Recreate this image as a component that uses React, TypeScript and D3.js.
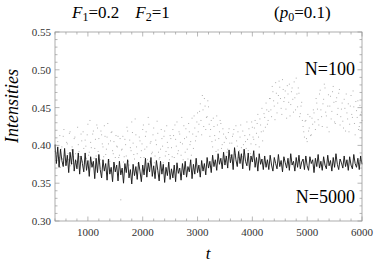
import React, { useEffect, useRef } from "react";
import * as d3 from "d3";

// sampling of the time axis
const tStart = 400;
const tStep = 25;

// N=5000 run (black line)
const bigN = [
  0.401, 0.376, 0.398, 0.371, 0.395, 0.380, 0.372, 0.396, 0.373, 0.387,
  0.364, 0.391, 0.375, 0.395, 0.366, 0.381, 0.369, 0.390, 0.362, 0.386,
  0.376, 0.365, 0.390, 0.367, 0.380,
  0.359, 0.385, 0.371, 0.379, 0.356, 0.383, 0.364, 0.388, 0.368, 0.357,
  0.381, 0.366, 0.376, 0.354, 0.382, 0.362, 0.371, 0.352, 0.378, 0.365,
  0.374, 0.353, 0.379, 0.361, 0.370, 0.350, 0.376, 0.364, 0.381, 0.357,
  0.368, 0.349, 0.375, 0.360, 0.372, 0.355, 0.378, 0.366, 0.352, 0.374,
  0.361, 0.383, 0.358, 0.377, 0.365, 0.384, 0.359, 0.373, 0.356, 0.380,
  0.367, 0.353, 0.379, 0.362, 0.375, 0.351, 0.371, 0.360, 0.378, 0.355,
  0.369, 0.357, 0.374, 0.352, 0.377, 0.363, 0.370, 0.354, 0.376, 0.361,
  0.379, 0.358, 0.372, 0.365, 0.381, 0.356, 0.375, 0.362, 0.383, 0.364,
  0.374, 0.358, 0.380, 0.366, 0.376, 0.361, 0.384, 0.370, 0.379, 0.364,
  0.387, 0.372, 0.381, 0.367, 0.389, 0.375, 0.383, 0.369, 0.391, 0.374,
  0.386, 0.370, 0.394, 0.377, 0.388, 0.368, 0.397, 0.381, 0.372, 0.392,
  0.376, 0.389, 0.369, 0.395, 0.379, 0.373, 0.390, 0.367, 0.386, 0.378,
  0.393, 0.371, 0.384, 0.366, 0.389, 0.375, 0.382, 0.368,
  0.386, 0.371, 0.381, 0.368, 0.387, 0.374, 0.366, 0.384, 0.376, 0.369,
  0.388, 0.372, 0.380, 0.365, 0.385, 0.377, 0.370, 0.383, 0.367, 0.389,
  0.374, 0.379, 0.366, 0.384, 0.371, 0.387, 0.369, 0.378, 0.382, 0.368,
  0.386, 0.373, 0.367, 0.385, 0.376, 0.381, 0.364, 0.383, 0.372, 0.388,
  0.370, 0.379, 0.367, 0.385, 0.374, 0.369, 0.387, 0.373, 0.380, 0.366,
  0.384, 0.371, 0.389, 0.375, 0.368, 0.382, 0.377, 0.370, 0.386, 0.372,
  0.381, 0.367, 0.385, 0.374, 0.369, 0.388, 0.376, 0.371, 0.383, 0.368,
  0.386, 0.375,
];

// N=100 run (grey dots), samples on the grid
const smallN = [
  0.392, 0.378, 0.405, 0.384, 0.371, 0.398, 0.412, 0.387, 0.375, 0.402,
  0.381, 0.418, 0.394, 0.376, 0.409, 0.389, 0.372, 0.401, 0.385, 0.415,
  0.379, 0.396, 0.407, 0.383, 0.428,
  0.391, 0.404, 0.377, 0.419, 0.396, 0.386, 0.423, 0.409, 0.381, 0.414,
  0.398, 0.426, 0.388, 0.411, 0.402, 0.379, 0.417, 0.393, 0.405, 0.384,
  0.399, 0.412, 0.387, 0.328,
  0.395, 0.378, 0.408, 0.386, 0.419, 0.374, 0.397, 0.431, 0.403, 0.382,
  0.414, 0.389, 0.376, 0.406, 0.393, 0.421,
  0.384, 0.412, 0.398, 0.437, 0.379, 0.405, 0.391, 0.423, 0.386, 0.401,
  0.416, 0.382, 0.395, 0.409, 0.377, 0.419, 0.392, 0.404, 0.388, 0.413,
  0.397, 0.421, 0.384, 0.408, 0.431, 0.393, 0.415, 0.387, 0.402, 0.426,
  0.391, 0.411, 0.382, 0.418, 0.405, 0.436, 0.396, 0.423, 0.412, 0.443,
  0.428, 0.455, 0.414, 0.447, 0.462, 0.421, 0.438, 0.451,
  0.412, 0.433, 0.398, 0.425, 0.407, 0.439, 0.394, 0.418, 0.429, 0.401,
  0.415, 0.386,
  0.409, 0.395, 0.422, 0.387, 0.403, 0.415, 0.392, 0.426, 0.399, 0.384,
  0.411, 0.397, 0.419, 0.389, 0.405, 0.431, 0.393, 0.414, 0.402, 0.424,
  0.408, 0.433, 0.416, 0.441, 0.398, 0.427, 0.449, 0.419, 0.437, 0.456,
  0.428, 0.445,
  0.462, 0.438, 0.471, 0.452, 0.483, 0.443, 0.466, 0.477, 0.449, 0.487,
  0.458, 0.472, 0.436, 0.468, 0.481, 0.454, 0.476, 0.444, 0.463, 0.489,
  0.451, 0.469, 0.442, 0.457,
  0.425, 0.411, 0.433, 0.405, 0.419, 0.438, 0.414, 0.428,
  0.443, 0.421, 0.456, 0.434, 0.468, 0.447, 0.425, 0.461, 0.476, 0.439,
  0.452, 0.418, 0.465, 0.445, 0.478, 0.431, 0.458, 0.441, 0.469, 0.427,
  0.448, 0.432, 0.461, 0.419, 0.443, 0.455, 0.428, 0.466, 0.437, 0.451,
  0.414, 0.446, 0.459, 0.425, 0.441, 0.433,
];

// N=100 run, samples half a step later
const smallNHalf = [
  0.401, 0.386, 0.374, 0.413, 0.395, 0.382, 0.421, 0.377, 0.404, 0.389,
  0.416, 0.373, 0.398, 0.385, 0.411, 0.379, 0.424, 0.392, 0.383, 0.406,
  0.418, 0.376, 0.399, 0.414, 0.387,
  0.433, 0.397, 0.415, 0.383, 0.408, 0.427, 0.392, 0.376, 0.419, 0.402,
  0.385, 0.412, 0.395, 0.429, 0.381, 0.406, 0.418, 0.389, 0.375, 0.413,
  0.398, 0.384, 0.409, 0.394,
  0.412, 0.385, 0.401, 0.424, 0.379, 0.407, 0.393, 0.417, 0.388, 0.435,
  0.398, 0.376, 0.411, 0.384, 0.402, 0.427,
  0.395, 0.418, 0.381, 0.428, 0.403, 0.389, 0.414, 0.377, 0.407, 0.432,
  0.391, 0.384, 0.421, 0.399, 0.412, 0.386, 0.426, 0.397, 0.381, 0.409,
  0.385, 0.413, 0.427, 0.399, 0.389, 0.418, 0.404, 0.437, 0.381, 0.409,
  0.422, 0.395, 0.429, 0.401, 0.387, 0.415, 0.439, 0.406, 0.431, 0.418,
  0.445, 0.433, 0.466, 0.425, 0.452, 0.437, 0.459, 0.428,
  0.421, 0.405, 0.436, 0.413, 0.392, 0.427, 0.409, 0.433, 0.396, 0.422,
  0.404, 0.411,
  0.391, 0.417, 0.403, 0.384, 0.412, 0.421, 0.388, 0.406, 0.418, 0.393,
  0.427, 0.385, 0.401, 0.413, 0.396, 0.408, 0.422, 0.389, 0.431, 0.411,
  0.423, 0.401, 0.429, 0.411, 0.435, 0.418, 0.406, 0.442, 0.424, 0.447,
  0.433, 0.462,
  0.447, 0.478, 0.459, 0.434, 0.469, 0.456, 0.485, 0.462, 0.441, 0.474,
  0.463, 0.448, 0.479, 0.457, 0.439, 0.471, 0.461, 0.484, 0.447, 0.468,
  0.476, 0.438, 0.452, 0.433,
  0.418, 0.432, 0.409, 0.441, 0.423, 0.413, 0.436, 0.447,
  0.431, 0.462, 0.448, 0.427, 0.473, 0.438, 0.455, 0.481, 0.444, 0.424,
  0.467, 0.452, 0.435, 0.471, 0.457, 0.429, 0.463, 0.449, 0.474, 0.438,
  0.456, 0.423, 0.449, 0.468, 0.435, 0.418, 0.452, 0.441, 0.472, 0.429,
  0.458, 0.437, 0.421, 0.453, 0.444,
];

const xTicks = [1000, 2000, 3000, 4000, 5000, 6000];
const yTicks = [0.3, 0.35, 0.4, 0.45, 0.5, 0.55];

const W = 374;
const H = 267;
const margin = { left: 55, right: 12, top: 32, bottom: 46 };
const serif = '"Times New Roman", "Liberation Serif", serif';

export default function App() {
  const ref = useRef<SVGSVGElement>(null);

  useEffect(() => {
    const svg = d3.select(ref.current);
    svg.selectAll("*").remove();

    const x = d3.scaleLinear().domain([400, 6000]).range([margin.left, W - margin.right]);
    const y = d3.scaleLinear().domain([0.3, 0.55]).range([H - margin.bottom, margin.top]);
    const x0 = x.range()[0], x1 = x.range()[1];
    const y0 = y.range()[0], y1 = y.range()[1];

    const frameCol = "#9a9a9a";

    // ticks (inside, on all four sides)
    const g = svg.append("g").attr("stroke", frameCol).attr("stroke-width", 0.7);
    d3.range(400, 6001, 200).forEach(t => {
      const len = t % 1000 === 0 ? 4.5 : 2.5;
      g.append("line").attr("x1", x(t)).attr("x2", x(t)).attr("y1", y0).attr("y2", y0 - len);
      g.append("line").attr("x1", x(t)).attr("x2", x(t)).attr("y1", y1).attr("y2", y1 + len);
    });
    d3.range(30, 56, 1).forEach(k => {
      const v = k / 100;
      const len = k % 5 === 0 ? 4.5 : 2.5;
      g.append("line").attr("x1", x0).attr("x2", x0 + len).attr("y1", y(v)).attr("y2", y(v));
      g.append("line").attr("x1", x1).attr("x2", x1 - len).attr("y1", y(v)).attr("y2", y(v));
    });

    // N=100 dots
    const dots = [
      ...smallN.map((v, i) => [tStart + i * tStep, v]),
      ...smallNHalf.map((v, i) => [tStart + tStep / 2 + i * tStep, v]),
    ].filter(d => d[0] <= 6000);
    svg.append("g")
      .selectAll("rect")
      .data(dots)
      .enter()
      .append("rect")
      .attr("x", d => x(d[0]) - 0.5)
      .attr("y", d => y(d[1]) - 0.5)
      .attr("width", 1)
      .attr("height", 1)
      .attr("fill", "#b0b0b0");

    // N=5000 line
    const line = d3.line<number>()
      .x((d, i) => x(tStart + i * tStep))
      .y(d => y(d));
    svg.append("path")
      .datum(bigN)
      .attr("d", line)
      .attr("fill", "none")
      .attr("stroke", "#1a1a1a")
      .attr("stroke-width", 0.95);

    // frame
    svg.append("rect")
      .attr("x", x0).attr("y", y1)
      .attr("width", x1 - x0).attr("height", y0 - y1)
      .attr("fill", "none").attr("stroke", frameCol).attr("stroke-width", 0.8);

    // tick labels
    svg.append("g")
      .selectAll("text")
      .data(xTicks)
      .enter()
      .append("text")
      .attr("x", d => x(d))
      .attr("y", y0 + 15)
      .attr("text-anchor", "middle")
      .style("font-family", serif)
      .attr("font-size", 11)
      .attr("fill", "#333")
      .text(d => d);

    svg.append("g")
      .selectAll("text")
      .data(yTicks)
      .enter()
      .append("text")
      .attr("x", x0 - 4)
      .attr("y", d => y(d) + 4)
      .attr("text-anchor", "end")
      .style("font-family", serif)
      .attr("font-size", 11)
      .attr("fill", "#333")
      .text(d => d3.format(".2f")(d));
  }, []);

  return (
    <>
      <style>{`body{margin:0}`}</style>
      <svg ref={ref} width={W} height={H} style={{ display: "block" }} />
      <svg width={W} height={H} style={{ position: "absolute", left: 0, top: 0, fontFamily: serif }}>
        <text x={72} y={18} fontSize={17}>
          <tspan fontStyle="italic">F</tspan>
          <tspan fontSize={12} dy={3}>1</tspan>
          <tspan dy={-3}>=0.2</tspan>
          <tspan dx={16} fontStyle="italic">F</tspan>
          <tspan fontSize={12} dy={3}>2</tspan>
          <tspan dy={-3}>=1</tspan>
        </text>
        <text x={274} y={18} fontSize={17}>
          <tspan>(</tspan>
          <tspan fontStyle="italic">p</tspan>
          <tspan fontSize={12} dy={3}>0</tspan>
          <tspan dy={-3}>=0.1)</tspan>
        </text>
        <text x={355} y={75} fontSize={18} textAnchor="end">N=100</text>
        <text x={355} y={203} fontSize={18} textAnchor="end">N=5000</text>
        <text transform="translate(18,106) rotate(-90)" fontSize={18} fontStyle="italic" textAnchor="middle">Intensities</text>
        <text x={208} y={259} fontSize={17} fontStyle="italic" textAnchor="middle">t</text>
      </svg>
    </>
  );
}
